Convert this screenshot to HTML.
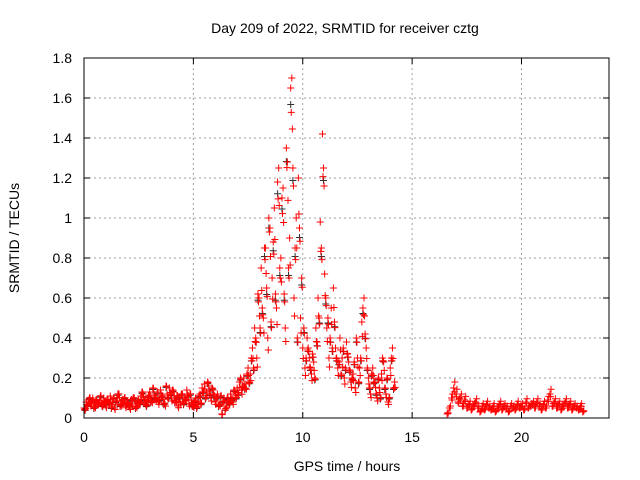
<!DOCTYPE html>
<html><head><meta charset="utf-8"><style>
html,body{margin:0;padding:0;background:#fff;}
svg{display:block;font-family:"Liberation Sans",sans-serif;}
</style></head><body>
<svg id="chart" width="640" height="480">
<text x="345" y="33" font-size="14" text-anchor="middle">Day 209 of 2022, SRMTID for receiver cztg</text>
<text x="347" y="471" font-size="14" text-anchor="middle">GPS time / hours</text>
<text transform="translate(19,238) rotate(-90)" font-size="14" text-anchor="middle">SRMTID / TECUs</text>
<g id="grid"></g>
<g id="ticks"></g>
<g id="pts"></g>
<rect x="84" y="58" width="525" height="360" fill="none" stroke="#000" stroke-width="1"/>
</svg>
<script>
const xTicks=[0,5,10,15,20];
const yTicks=[0,0.2,0.4,0.6,0.8,1,1.2,1.4,1.6,1.8];
const yTickLabels=["0","0.2","0.4","0.6","0.8","1","1.2","1.4","1.6","1.8"];
const seg1Start=0, seg1BStart=0.05, seg2Start=16.6, step=0.1;
const seg1A=[.05,.08,.09,.07,.10,.06,.08,.09,.07,.10,.06,.09,.11,.08,.05,.10,.12,.07,.09,.06,.08,.05,.07,.10,.06,.09,.11,.12,.08,.10,.13,.09,.12,.10,.08,.14,.11,.07,.12,.15,.10,.13,.09,.06,.08,.12,.10,.14,.07,.09,.06,.10,.08,.12,.15,.17,.13,.16,.10,.14,.08,.12,.07,.02,.10,.06,.09,.12,.08,.13,.15,.18,.14,.20,.17,.25,.22,.35,.45,.30,.60,.75,.50,.85,.40,.95,.70,1.05,.55,1.25,.80,1.15,.45,1.28,.90,1.70,.60,1.00,1.20,.50,.35,.25,.40,.30,.22,.28,.45,.60,.98,1.42,.72,.45,.30,.55,.65,.35,.25,.40,.30,.20,.38,.28,.18,.22,.15,.30,.25,.48,.60,.35,.20,.12,.25,.18,.10,.15,.22,.28,.12,.08,.25,.35,.18];
const seg1B=[.04,.06,.10,.08,.05,.09,.07,.11,.06,.08,.09,.07,.05,.10,.08,.12,.06,.09,.10,.07,.06,.09,.10,.05,.08,.07,.13,.09,.06,.11,.08,.15,.10,.13,.09,.11,.07,.16,.10,.12,.14,.08,.11,.10,.12,.07,.09,.11,.12,.06,.08,.05,.11,.07,.13,.10,.18,.12,.15,.11,.10,.06,.11,.08,.04,.10,.07,.09,.14,.10,.12,.20,.16,.15,.22,.18,.30,.25,.40,.62,.45,.55,.85,.65,1.00,.48,.88,.62,1.18,.75,1.10,.62,1.35,.75,1.65,1.25,.85,.40,.95,.70,.45,.30,.35,.25,.32,.20,.38,.50,.85,1.25,.60,.50,.40,.35,.48,.30,.28,.22,.35,.25,.32,.24,.20,.28,.40,.18,.30,.55,.42,.25,.15,.22,.18,.12,.20,.10,.30,.15,.20,.10,.30,.15];
const seg2=[.02,.05,.10,.15,.12,.08,.10,.06,.09,.05,.07,.04,.06,.08,.05,.03,.06,.04,.07,.05,.04,.06,.03,.05,.07,.04,.06,.05,.03,.06,.05,.04,.07,.05,.06,.04,.08,.05,.06,.07,.05,.08,.06,.04,.07,.05,.09,.12,.06,.08,.05,.07,.04,.06,.08,.05,.07,.04,.06,.05,.04,.06,.03];
const NS="http://www.w3.org/2000/svg";
const X=t=>84+t*525/24, Y=v=>418-v*200;
const grid=document.getElementById('grid'), ticks=document.getElementById('ticks'), pts=document.getElementById('pts');
function mk(tag,a,parent){const e=document.createElementNS(NS,tag);for(const k in a)e.setAttribute(k,a[k]);parent.appendChild(e);return e;}
xTicks.forEach(t=>{
  const l=mk('line',{x1:X(t),x2:X(t),y1:58,y2:418,stroke:'#a0a0a0','stroke-dasharray':'2,3'},grid);
  
  
  mk('line',{x1:X(t),x2:X(t),y1:418,y2:412,stroke:'#000'},ticks);
  mk('line',{x1:X(t),x2:X(t),y1:58,y2:64,stroke:'#000'},ticks);
  const tx=mk('text',{x:X(t),y:442,'font-size':14,'text-anchor':'middle'},ticks);
  tx.textContent=String(t);
  
  
});
yTicks.forEach((v,i)=>{
  const l=mk('line',{x1:84,x2:609,y1:Y(v),y2:Y(v),stroke:'#a0a0a0','stroke-dasharray':'2,3'},grid);
  
  
  mk('line',{x1:84,x2:90,y1:Y(v),y2:Y(v),stroke:'#000'},ticks);
  mk('line',{x1:609,x2:603,y1:Y(v),y2:Y(v),stroke:'#000'},ticks);
  const tx=mk('text',{x:72,y:Y(v)+5,'font-size':14,'text-anchor':'end'},ticks);
  tx.textContent=yTickLabels[i];
  
  
});
function plus(t,v,color){
  const x=X(t),y=Y(v);
  const p=mk('path',{d:`M${x-3.5},${y}h7M${x},${y-3.5}v7`,stroke:color,'stroke-width':1,fill:'none'},pts);
  
  
}
seg1B.forEach((v,i)=>plus(seg1BStart+i*step,v*0.95,'#333'));
seg1A.forEach((v,i)=>plus(seg1Start+i*step,v,'#ff0000'));
seg1B.forEach((v,i)=>plus(seg1BStart+i*step,v,'#ff0000'));
seg1A.forEach((v,i)=>plus(seg1Start+0.025+i*step,v*0.85,'#ff0000'));
seg1B.forEach((v,i)=>plus(seg1BStart+0.025+i*step,v*0.92+0.01,'#ff0000'));
seg2.forEach((v,i)=>plus(seg2Start+i*step,v,'#ff0000'));
seg2.forEach((v,i)=>plus(seg2Start+0.05+i*step,v*1.2,'#ff0000'));
seg2.forEach((v,i)=>plus(seg2Start+0.03+i*step,v*0.8+0.01,'#ff0000'));
</script>
</body></html>
